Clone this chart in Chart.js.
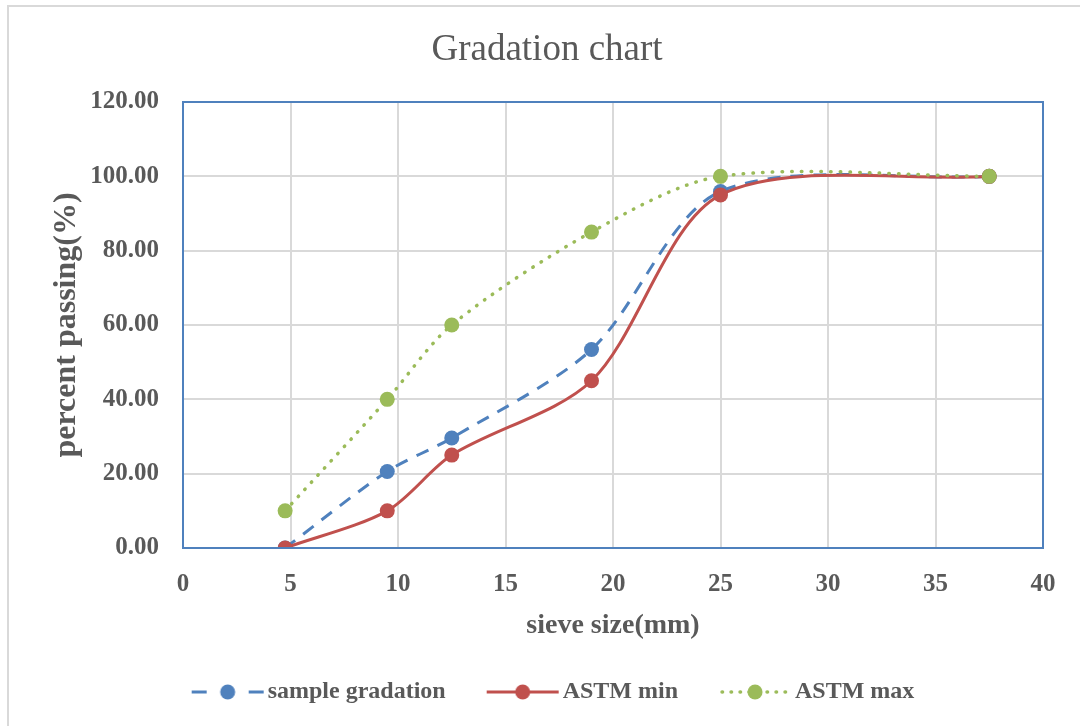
<!DOCTYPE html>
<html>
<head>
<meta charset="utf-8">
<script src="https://cdn.jsdelivr.net/npm/chart.js@4/dist/chart.umd.min.js"></script>
<style>
  html, body { margin: 0; padding: 0; background: #fff; overflow: hidden; }
  .frame { position: absolute; left: 7px; top: 5px; width: 1200px; height: 800px; border: 2px solid #d9d9d9; }
  .wrap { position: absolute; left: 0; top: 0; width: 1080px; height: 726px; }
</style>
</head>
<body>
<div class="frame"></div>
<div class="wrap"><canvas id="gradation"></canvas></div>
<script>
  // sieve sizes in mm
  const sieves = [4.75, 9.5, 12.5, 19, 25, 37.5]
  // percent passing
  const sampleGradation = [0, 20.6, 29.6, 53.4, 95.9, 100]
  const astmMin = [0, 10, 25, 45, 95, 100]
  const astmMax = [10, 40, 60, 85, 100, 100]

  const xTicks = [0, 5, 10, 15, 20, 25, 30, 35, 40]
  const yTicks = [0, 20, 40, 60, 80, 100, 120]

  const GREY = '#595959'
  const FONT = "'Liberation Serif', 'Times New Roman', serif"

  const toPoints = ys => sieves.map((x, i) => ({ x, y: ys[i] }))

  // little line + marker swatch for the legend
  function swatch (color, dash, round) {
    const c = document.createElement('canvas')
    c.width = 74
    c.height = 20
    const g = c.getContext('2d')
    g.strokeStyle = color
    g.lineWidth = round ? 3.5 : 3
    g.lineCap = round ? 'round' : 'butt'
    g.setLineDash(dash)
    g.beginPath()
    g.moveTo(round ? 4 : 1, 10)
    g.lineTo(73, 10)
    g.stroke()
    g.fillStyle = color
    g.beginPath()
    g.arc(37, 10, 7.5, 0, Math.PI * 2)
    g.fill()
    return c
  }

  const plotBorder = {
    id: 'plotBorder',
    afterLayout (chart) {
      // nudge the legend row a little to the right
      chart.legend.left += 20
    },
    afterDatasetsDraw (chart) {
      const { ctx, chartArea: a } = chart
      ctx.save()
      ctx.strokeStyle = '#4f81bd'
      ctx.lineWidth = 2
      ctx.strokeRect(a.left, a.top, a.right - a.left, a.bottom - a.top)
      ctx.restore()
    }
  }

  const datasets = [
    {
      label: 'sample gradation',
      data: toPoints(sampleGradation),
      borderColor: '#4f81bd',
      backgroundColor: '#4f81bd',
      borderDash: [13, 10],
      swatch: swatch('#4f81bd', [15, 42]),
      order: 3
    },
    {
      label: 'ASTM min',
      data: toPoints(astmMin),
      borderColor: '#c0504d',
      backgroundColor: '#c0504d',
      swatch: swatch('#c0504d', []),
      order: 2
    },
    {
      label: 'ASTM max',
      data: toPoints(astmMax),
      borderColor: '#9bbb59',
      backgroundColor: '#9bbb59',
      borderWidth: 3.5,
      borderDash: [0.5, 9.2],
      borderCapStyle: 'round',
      swatch: swatch('#9bbb59', [0.5, 8.5], true),
      order: 1
    }
  ].map(d => Object.assign({
    showLine: true,
    tension: 0.3,
    borderWidth: 3,
    pointRadius: 7.5,
    pointHoverRadius: 7.5,
    pointBorderWidth: 0
  }, d))

  new Chart(document.getElementById('gradation'), {
    type: 'scatter',
    data: { datasets },
    plugins: [plotBorder],
    options: {
      responsive: true,
      maintainAspectRatio: false,
      animation: false,
      layout: { padding: { top: 20, left: 51, right: 37, bottom: 12 } },
      plugins: {
        title: {
          display: true,
          text: 'Gradation chart',
          color: GREY,
          font: { family: FONT, size: 37, weight: 'normal' },
          padding: { top: 8, bottom: 29.6 }
        },
        legend: {
          position: 'bottom',
          labels: {
            color: GREY,
            font: { family: FONT, size: 24, weight: 'bold' },
            usePointStyle: true,
            pointStyleWidth: 56,
            padding: 49,
            sort: (a, b) => a.datasetIndex - b.datasetIndex,
            generateLabels (chart) {
              const items = Chart.defaults.plugins.legend.labels.generateLabels(chart)
              items.forEach(it => {
                it.pointStyle = chart.data.datasets[it.datasetIndex].swatch
              })
              return items
            }
          }
        },
        tooltip: { enabled: false }
      },
      scales: {
        x: {
          type: 'linear',
          min: 0,
          max: 40,
          afterBuildTicks: s => { s.ticks = xTicks.map(v => ({ value: v })) },
          afterFit: s => { s.height = 83 },
          grid: { color: '#d9d9d9', lineWidth: 2, drawTicks: false },
          border: { display: false },
          ticks: {
            color: GREY,
            padding: 22,
            font: { family: FONT, size: 25, weight: 'bold' }
          },
          title: {
            display: true,
            text: 'sieve size(mm)',
            color: GREY,
            font: { family: FONT, size: 28, weight: 'bold' },
            padding: { top: 0, bottom: -12 }
          }
        },
        y: {
          min: 0,
          max: 120,
          afterBuildTicks: s => { s.ticks = yTicks.map(v => ({ value: v })) },
          afterFit: s => { s.width = 132 },
          grid: { color: '#d9d9d9', lineWidth: 2, drawTicks: false },
          border: { display: false },
          ticks: {
            color: GREY,
            padding: 24,
            font: { family: FONT, size: 25, weight: 'bold' },
            callback: v => v.toFixed(2)
          },
          title: {
            display: true,
            text: 'percent passing(%)',
            color: GREY,
            font: { family: FONT, size: 32, weight: 'bold' },
            padding: { top: -3, bottom: 0 }
          }
        }
      }
    }
  })
</script>
</body>
</html>
